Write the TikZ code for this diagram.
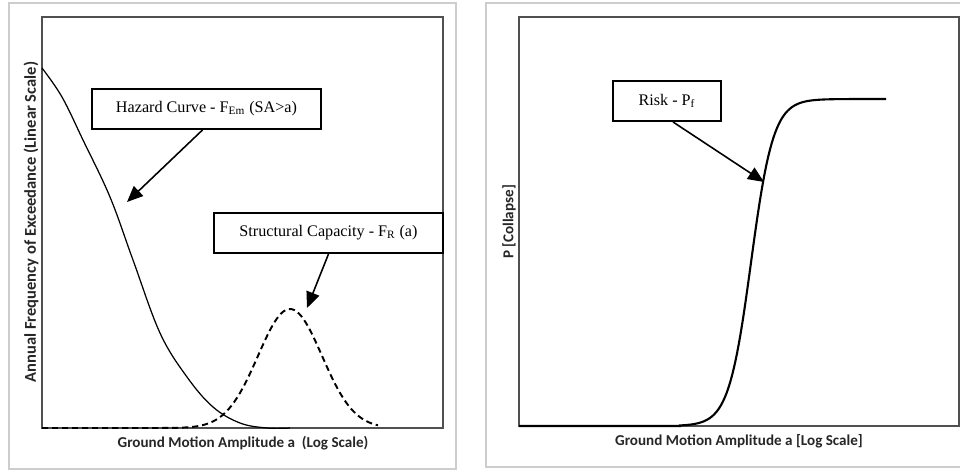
\documentclass[tikz,border=0pt]{standalone}
\usepackage{fontspec}
\setmainfont{Liberation Serif}
\setsansfont{Carlito}
\usetikzlibrary{arrows.meta, positioning, calc}

\begin{document}
\begin{tikzpicture}[x=0.02cm, y=-0.02cm, >={Triangle[length=0.32cm, width=0.27cm]}]

    % Define colors
    \definecolor{frame_gray}{RGB}{205, 205, 205}
    \definecolor{axis_gray}{RGB}{80, 80, 80}

    \tikzset{
        callout/.style={draw, line width=1.1pt, fill=white, inner sep=2pt,
            font=\fontsize{9.2}{11}\selectfont, minimum height=0.8cm},
        axislabel/.style={font=\sffamily\bfseries\fontsize{8.6}{10}\selectfont, text=black!85},
        pointer/.style={->, line width=0.9pt},
        curve/.style={line width=0.7pt},
    }

    \useasboundingbox (0,0) rectangle (960,471);

    % Outer frames
    \draw[frame_gray, line width=0.8pt] (9,3) rectangle (456,469);
    \draw[frame_gray, line width=0.8pt] (486,3) rectangle (975,467);

    % Left plot: hazard curve and capacity
    \draw[axis_gray, line width=0.6pt] (42,17) rectangle (443,428);
    \node[axislabel, rotate=90, font=\sffamily\bfseries\fontsize{9.4}{10}\selectfont] (yleft) at (31,222) {Annual Frequency of Exceedance (Linear Scale)};
    \node[axislabel] (xleft) at (243,443) {Ground Motion Amplitude a~ (Log Scale)};

    \draw[curve] plot[smooth, tension=0.6] coordinates {(42,68) (62,97) (83,140) (110,197) (133,260)
        (160,333) (187,377) (213,407) (240,423) (267,428) (290,428)};
    \draw[line width=1.1pt, dash pattern=on 3.5pt off 2.2pt]
        plot[domain=42:378, samples=150] (\x, {428-119*exp(-0.5*((\x-290)/32)*((\x-290)/32))});

    \node[callout, minimum width=4.58cm] (hazard) at (206.5,109) {Hazard Curve - F\textsubscript{Em} (SA>a)};
    \coordinate (hazard_tip) at (127,202);
    \draw[pointer] (hazard.south) ++(-4,0) -- (hazard_tip);

    \node[callout, minimum width=4.58cm] (capacity) at (328.5,233) {Structural Capacity - F\textsubscript{R} (a)};
    \coordinate (capacity_tip) at (307,308);
    \draw[pointer] (capacity.south) -- (capacity_tip);

    % Right plot: collapse probability
    \draw[axis_gray, line width=0.6pt] (519,17) rectangle (959,426);
    \node[axislabel, rotate=90] (yright) at (509,222) {P [Collapse]};
    \node[axislabel] (xright) at (739,441) {Ground Motion Amplitude a [Log Scale]};

    \draw[line width=1.2pt] (519,426) -- (680,426)
        -- plot[domain=680:886, samples=120] (\x, {426-327/(1+exp(-1.702*(\x-751)/19))});

    \node[callout, minimum width=2.16cm] (risk) at (667,101) {Risk - P\textsubscript{f}};
    \coordinate (risk_tip) at (764,182);
    \draw[pointer] (risk.south) ++(6,0) -- (risk_tip);

\end{tikzpicture}
\end{document}
